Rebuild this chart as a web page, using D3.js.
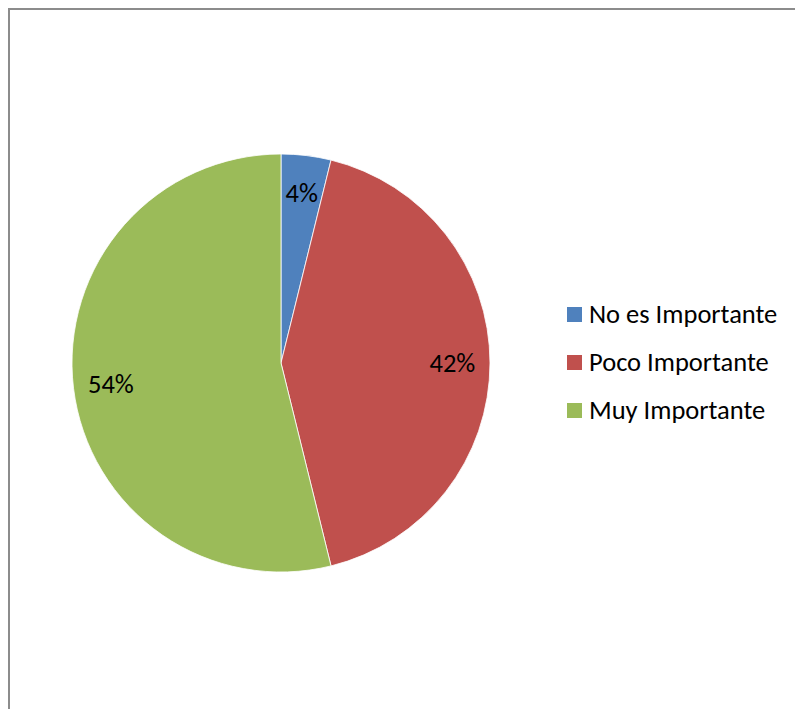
<!DOCTYPE html>
<html>
<head>
<meta charset="utf-8">
<script src="https://cdn.jsdelivr.net/npm/d3@7"></script>
<style>
  html, body { margin: 0; padding: 0; background: #fff; }
  svg { display: block; }
</style>
</head>
<body>
<div id="chart"></div>
<script>
const categories = ["No es Importante", "Poco Importante", "Muy Importante"];
const counts = [2, 22, 28];
const labels = ["4%", "42%", "54%"];
const colors = ["#4F81BD", "#C0504D", "#9BBB59"];

const width = 795;
const height = 709;
const font = "Carlito, Calibri, 'Open Sans', sans-serif";
const fontSize = 26.5;

const svg = d3.select("#chart").append("svg")
    .attr("width", width)
    .attr("height", height);

svg.append("rect")
    .attr("x", 9)
    .attr("y", 9)
    .attr("width", width + 10)
    .attr("height", height + 10)
    .attr("fill", "#fff")
    .attr("stroke", "#8c8c8c")
    .attr("stroke-width", 2);

const cx = 281, cy = 363, r = 209;

const pie = d3.pie().sort(null).value(d => d)(counts);
const arc = d3.arc().innerRadius(0).outerRadius(r);
const labelArc = d3.arc().innerRadius(r * 0.82).outerRadius(r * 0.82);

const g = svg.append("g").attr("transform", `translate(${cx},${cy})`);

g.selectAll("path")
    .data(pie)
    .join("path")
    .attr("d", arc)
    .attr("fill", (d, i) => colors[i])
    .attr("stroke", "#fff")
    .attr("stroke-width", 0.8);

g.selectAll("text")
    .data(pie)
    .join("text")
    .attr("transform", d => `translate(${labelArc.centroid(d)})`)
    .attr("text-anchor", "middle")
    .attr("dy", "0.35em")
    .attr("font-family", font)
    .attr("font-size", fontSize)
    .attr("fill", "#000")
    .text((d, i) => labels[i]);

const legendY = d3.scalePoint().domain(categories).range([314, 410]);

const legend = svg.append("g")
    .selectAll("g")
    .data(categories)
    .join("g")
    .attr("transform", d => `translate(567,${legendY(d)})`);

legend.append("rect")
    .attr("x", 0)
    .attr("y", -7)
    .attr("width", 15)
    .attr("height", 15)
    .attr("fill", (d, i) => colors[i]);

legend.append("text")
    .attr("x", 22)
    .attr("dy", "0.35em")
    .attr("font-family", font)
    .attr("font-size", fontSize)
    .attr("fill", "#000")
    .text(d => d);
</script>
</body>
</html>
